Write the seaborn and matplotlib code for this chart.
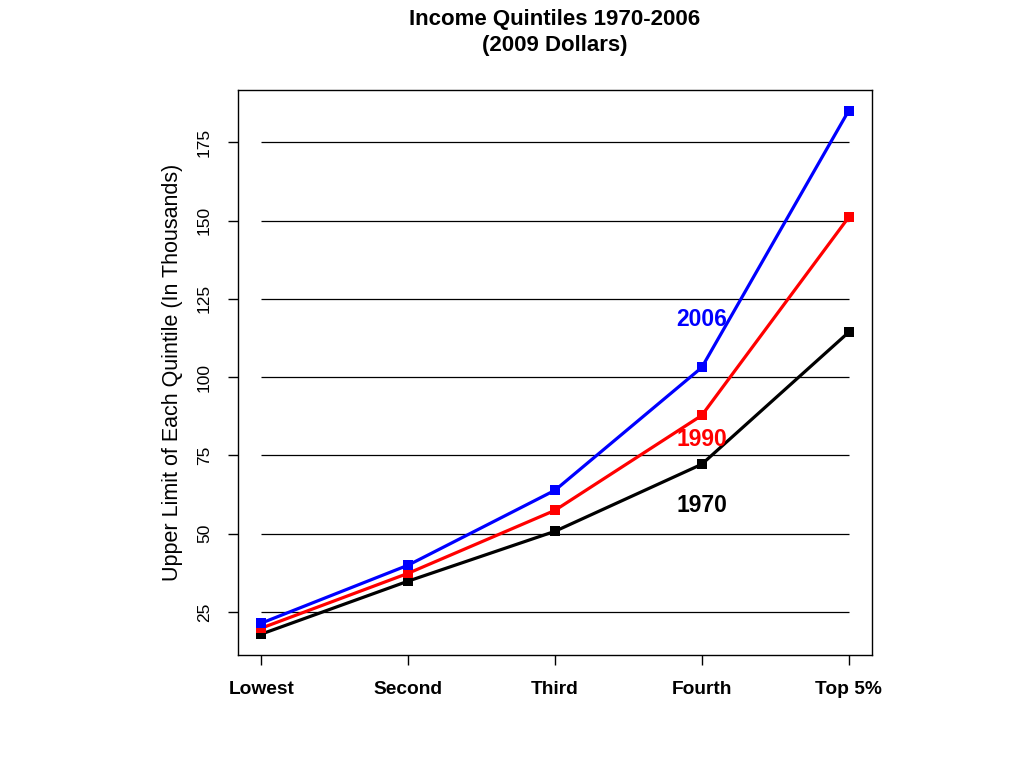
import matplotlib
matplotlib.use("Agg")
import matplotlib.pyplot as plt
import seaborn as sns
import pandas as pd

categories = ["Lowest", "Second", "Third", "Fourth", "Top 5%"]
years = ["1970", "1990", "2006"]
values_1970 = [18.0, 34.9, 50.8, 72.2, 114.3]
values_1990 = [19.9, 37.4, 57.5, 87.8, 151.0]
values_2006 = [21.5, 40.0, 63.9, 103.1, 185.0]
yticks = [25, 50, 75, 100, 125, 150, 175]
colors = {"1970": "black", "1990": "#ff0000", "2006": "#0000ff"}

rows = []
for yr, vals in zip(years, [values_1970, values_1990, values_2006]):
    for i, v in enumerate(vals):
        rows.append({"pos": i, "value": v, "year": yr})
df = pd.DataFrame(rows)

sns.set_style("white")
plt.rcParams['font.family'] = ['Liberation Sans', 'DejaVu Sans']
plt.rcParams['text.color'] = 'black'
plt.rcParams['axes.labelcolor'] = 'black'
plt.rcParams['xtick.color'] = 'black'
plt.rcParams['ytick.color'] = 'black'

fig = plt.figure(figsize=(10.24, 7.68), dpi=100)
ax = fig.add_axes([238/1024, 1-655/768, (872-238)/1024, (655-90)/768])

ax.hlines(yticks, 0, len(categories)-1, colors="black", linewidth=0.9, zorder=1)

sns.lineplot(data=df, x="pos", y="value", hue="year", palette=colors,
             hue_order=years, marker="s", markersize=7, markeredgewidth=0,
             linewidth=2.3, ax=ax, legend=False, zorder=3)

ax.set_xlim(-0.16, 4.16)
ax.set_ylim(11.3, 191.7)
ax.set_xticks(range(len(categories)))
ax.set_xticklabels(categories, fontsize=13.8, fontweight="bold")
ax.set_yticks(yticks)
ax.set_yticklabels([str(t) for t in yticks], fontsize=12.5, rotation=90, va="center")
ax.tick_params(axis="both", direction="out", length=7.2, width=1, color="black",
               bottom=True, left=True, labelcolor="black")
ax.tick_params(axis="x", pad=11.5)
ax.tick_params(axis="y", pad=11.5)
for s in ax.spines.values():
    s.set_visible(True)
    s.set_color("black")
    s.set_linewidth(1)

ax.set_xlabel("")
ax.set_ylabel("Upper Limit of Each Quintile (In Thousands)", fontsize=15.5, labelpad=10)

ax.text(3, 118.5, "2006", color="#0000ff", fontsize=16.5, fontweight="bold", ha="center", va="center")
ax.text(3, 80.0, "1990", color="#ff0000", fontsize=16.5, fontweight="bold", ha="center", va="center")
ax.text(3, 59.0, "1970", color="black", fontsize=16.5, fontweight="bold", ha="center", va="center")

fig.text(555/1024, 1-19/768, "Income Quintiles 1970-2006", ha="center", va="center",
         fontsize=16, fontweight="bold")
fig.text(555/1024, 1-46/768, "(2009 Dollars)", ha="center", va="center",
         fontsize=16, fontweight="bold")

fig.savefig("out.png", dpi=100, facecolor="white")
